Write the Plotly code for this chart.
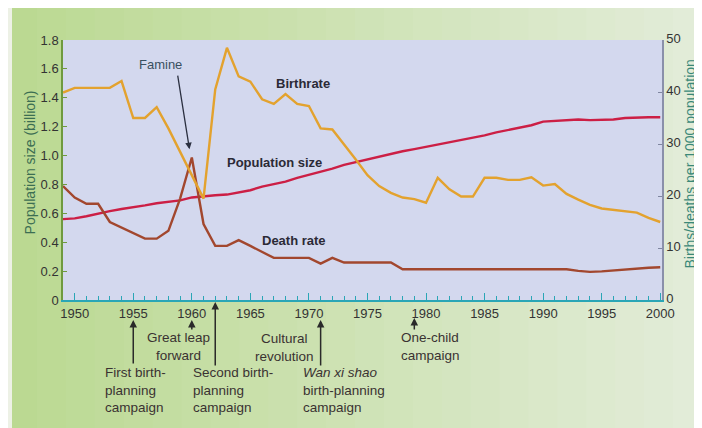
import plotly.graph_objects as go

years = list(range(1949, 2001))

birth_rate = [39.9, 40.8, 40.8, 40.8, 40.8, 42.1, 35.0, 35.0, 37.1, 33.0,
              28.5, 24.0, 19.5, 40.5, 48.5, 43.0, 42.0, 38.6, 37.7, 39.6,
              37.7, 37.3, 33.0, 32.8, 30.0, 27.0, 24.0, 21.9, 20.6, 19.7,
              19.4, 18.7, 23.5, 21.3, 19.9, 19.9, 23.5, 23.5, 23.1, 23.1,
              23.6, 22.0, 22.3, 20.4, 19.3, 18.3, 17.6, 17.3, 17.1, 16.8,
              15.8, 15.0]

death_rate = [21.9, 19.7, 18.5, 18.5, 15.0, 13.9, 12.8, 11.8, 11.8, 13.3,
              19.5, 27.4, 14.6, 10.4, 10.4, 11.5, 10.4, 9.3, 8.1, 8.1,
              8.1, 8.1, 7.0, 8.1, 7.2, 7.2, 7.2, 7.2, 7.2, 5.9,
              5.9, 5.9, 5.9, 5.9, 5.9, 5.9, 5.9, 5.9, 5.9, 5.9,
              5.9, 5.9, 5.9, 5.9, 5.6, 5.4, 5.5, 5.7, 5.9, 6.1,
              6.2, 6.3]

population = [0.56, 0.565, 0.58, 0.60, 0.615, 0.63, 0.64, 0.655, 0.67, 0.68,
              0.69, 0.71, 0.72, 0.725, 0.73, 0.745, 0.76, 0.785, 0.80, 0.82,
              0.845, 0.865, 0.89, 0.91, 0.935, 0.955, 0.975, 0.99, 1.01, 1.03,
              1.045, 1.06, 1.075, 1.09, 1.105, 1.12, 1.14, 1.16, 1.175, 1.19,
              1.21, 1.235, 1.24, 1.245, 1.25, 1.245, 1.245, 1.25, 1.26, 1.265,
              1.265, 1.265]

x_ticks = list(range(1950, 2001, 5))
left_ticks = [0, 0.2, 0.4, 0.6, 0.8, 1.0, 1.2, 1.4, 1.6, 1.8]
left_ticktext = ["0", "0.2", "0.4", "0.6", "0.8", "1.0", "1.2", "1.4", "1.6", "1.8"]
right_ticks = [0, 10, 20, 30, 40, 50]

# campaign / event years marked with arrows below the axis
event_years = [1955, 1960, 1962, 1971, 1979]

FONT = "Liberation Sans, Arial, sans-serif"
TEAL = "#2aa6b6"

# page body has an 8px margin, so the figure is 8px smaller than the window
W, H = 694, 420
ML, MR, MT, MB = 55, 40, 32, 128
PW, PH = W - ML - MR, H - MT - MB   # 599 x 260

fig = go.Figure()
fig.add_trace(go.Scatter(x=years, y=population, mode="lines",
                         line=dict(color="#cc1f45", width=2.4), yaxis="y",
                         showlegend=False))
fig.add_trace(go.Scatter(x=years, y=death_rate, mode="lines",
                         line=dict(color="#a2472e", width=2.4), yaxis="y2",
                         showlegend=False))
fig.add_trace(go.Scatter(x=years, y=birth_rate, mode="lines",
                         line=dict(color="#e3a22e", width=2.4), yaxis="y2",
                         showlegend=False))

# background gradient bands (decoration)
shapes = []
n = 24
x_left, x_right = -ML / PW, (W - ML) / PW
y_bot, y_top = -MB / PH, (PH + MT) / PH
c0 = (0xbb, 0xd9, 0x92)
c1 = (0xe2, 0xec, 0xd8)
for i in range(n):
    t = i / (n - 1)
    col = "rgb(%d,%d,%d)" % tuple(round(a + (b - a) * t) for a, b in zip(c0, c1))
    xa = x_left + (x_right - x_left) * i / n
    xb = x_left + (x_right - x_left) * (i + 1) / n
    shapes.append(dict(type="rect", xref="paper", yref="paper", x0=xa, x1=xb + 0.002,
                       y0=y_bot, y1=y_top, fillcolor=col, line_width=0, layer="below"))
shapes.append(dict(type="rect", xref="paper", yref="paper", x0=x_left, x1=(4 - ML) / PW,
                   y0=y_bot, y1=y_top, fillcolor="#edf1e6", line_width=0, layer="below"))
shapes.append(dict(type="rect", xref="paper", yref="paper", x0=0, x1=1, y0=0, y1=1,
                   fillcolor="#d3d8ee", line_width=0, layer="below"))

ann = []
lab = dict(family=FONT, size=13, color="#2b2a36")
ann.append(dict(x=1969.46, y=1.50, xref="x", yref="y", text="<b>Birthrate</b>",
                showarrow=False, font=lab))
ann.append(dict(x=1967.07, y=0.952, xref="x", yref="y", text="<b>Population size</b>",
                showarrow=False, font=lab))
ann.append(dict(x=1968.7, y=0.414, xref="x", yref="y", text="<b>Death rate</b>",
                showarrow=False, font=lab))
ann.append(dict(x=1957.3, y=1.628, xref="x", yref="y", text="Famine",
                showarrow=False, font=dict(family=FONT, size=13, color="#3a5060")))
ann.append(dict(x=1959.8, y=29.0, xref="x", yref="y2", text="", showarrow=True,
                ax=-12, ay=-75, arrowhead=2, arrowsize=1, arrowwidth=1.3,
                arrowcolor="#2b3040"))

# axis titles
ann.append(dict(x=(30 - 63) / PW, y=0.529, xref="paper", yref="paper",
                xanchor="center", yanchor="middle",
                text="Population size (billion)", textangle=-90, showarrow=False,
                font=dict(family=FONT, size=14, color="#3b6e52")))
ann.append(dict(x=(690 - 63) / PW, y=0.521, xref="paper", yref="paper",
                xanchor="center", yanchor="middle",
                text="Births/deaths per 1000 population", textangle=-90, showarrow=False,
                font=dict(family=FONT, size=14, color="#3a8878")))

small = dict(family=FONT, size=13.5, color="#3a3232")
tails = [45, 11, 65, 47, 13]
heads = [-20 / PH, -20 / PH, -2 / PH, -20 / PH, -18 / PH]
for yr, tl, hd in zip(event_years, tails, heads):
    ann.append(dict(x=yr, y=hd, xref="x", yref="paper", text="", showarrow=True,
                    ax=0, ay=tl, arrowhead=2, arrowsize=1, arrowwidth=1.5,
                    arrowcolor="#2a2a2a"))

ann.append(dict(x=1952.45, y=-90 / PH, xref="x", yref="paper",
                text="First birth-<br>planning<br>campaign", showarrow=False,
                xanchor="left", yanchor="middle", align="left", font=small))
ann.append(dict(x=1958.9, y=-46.5 / PH, xref="x", yref="paper",
                text="Great leap<br>forward", showarrow=False,
                xanchor="center", yanchor="middle", align="center", font=small))
ann.append(dict(x=1959.95, y=-90 / PH, xref="x", yref="paper",
                text="Second birth-<br>planning<br>campaign", showarrow=False,
                xanchor="left", yanchor="middle", align="left", font=small))
ann.append(dict(x=1967.9, y=-47 / PH, xref="x", yref="paper",
                text="Cultural<br>revolution", showarrow=False,
                xanchor="center", yanchor="middle", align="center", font=small))
ann.append(dict(x=1969.35, y=-90 / PH, xref="x", yref="paper",
                text="<i>Wan xi shao</i><br>birth-planning<br>campaign", showarrow=False,
                xanchor="left", yanchor="middle", align="left", font=small))
ann.append(dict(x=1977.7, y=-46 / PH, xref="x", yref="paper",
                text="One-child<br>campaign", showarrow=False,
                xanchor="left", yanchor="middle", align="left", font=small))

tick_font = dict(family=FONT, size=13, color="#333333")
fig.update_layout(
    width=W, height=H,
    margin=dict(l=ML, r=MR, t=MT, b=MB, autoexpand=False),
    paper_bgcolor="#d3e5bb",
    plot_bgcolor="#d3d8ee",
    shapes=shapes,
    annotations=ann,
    font=dict(family=FONT, size=12, color="#333333"),
    xaxis=dict(range=[1949, 2000.15], tickvals=x_ticks, ticks="inside", ticklen=7,
               tickwidth=1.2, tickcolor=TEAL, showline=True, linecolor=TEAL, linewidth=2,
               showgrid=False, zeroline=False, automargin=False, tickfont=tick_font,
               minor=dict(dtick=1, tick0=1950, ticks="inside", ticklen=4,
                          tickcolor=TEAL, tickwidth=1, showgrid=False)),
    yaxis=dict(range=[0, 1.8], tickvals=left_ticks, ticktext=left_ticktext,
               ticks="inside", ticklen=4, tickcolor="#6f9a3f", showline=True,
               linecolor="#6f9a3f", linewidth=1.5, showgrid=False, zeroline=False,
               automargin=False, tickfont=tick_font),
    yaxis2=dict(range=[0, 50], tickvals=right_ticks, overlaying="y", side="right",
                ticks="inside", ticklen=4, tickcolor="#7f86a0", showline=True,
                linecolor="#8a90aa", linewidth=1.5, showgrid=False, zeroline=False,
                automargin=False, tickfont=tick_font, ticklabelshift=-2),
)

fig.write_html("out.html")
